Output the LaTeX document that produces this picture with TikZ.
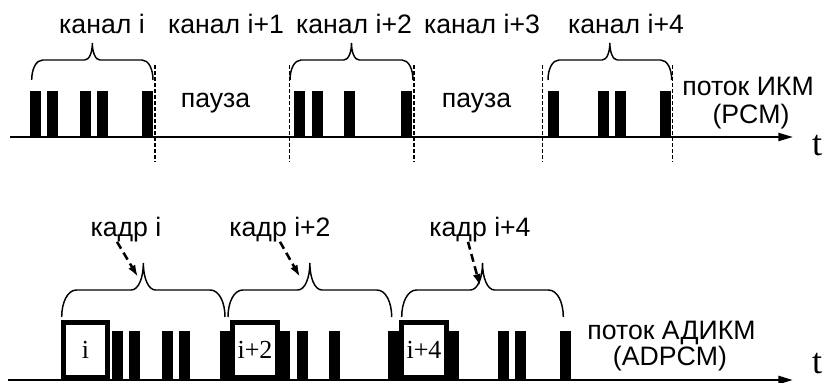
\documentclass[tikz,border=0pt]{standalone}
\usepackage{fontspec}
\setmainfont{Liberation Sans}
\newfontfamily\timesfont{Liberation Serif}
\usetikzlibrary{arrows.meta}

% curly brace: left x, right x, end y, middle y, tip y
\newcommand{\kbrace}[5]{%
  \pgfmathsetmacro{\kbm}{(#1+#2)/2}%
  \pgfmathsetmacro{\kbe}{0.55*(#3-#4)}%
  \pgfmathsetmacro{\kbt}{0.45*(#4-#5)}%
  \draw[brc] (#1,#3) .. controls (#1,{#4+0.45*(#3-#4)}) and ({#1+0.4*\kbe},#4) .. ({#1+\kbe},#4)
    -- ({\kbm-\kbt},#4) .. controls ({\kbm-0.4*\kbt},#4) and (\kbm,{#4-0.45*(#4-#5)}) .. (\kbm,#5)
    .. controls (\kbm,{#4-0.45*(#4-#5)}) and ({\kbm+0.4*\kbt},#4) .. ({\kbm+\kbt},#4)
    -- ({#2-\kbe},#4) .. controls ({#2-0.4*\kbe},#4) and (#2,{#4+0.45*(#3-#4)}) .. (#2,#3);}

\begin{document}
\begin{tikzpicture}[x=0.75pt,y=0.75pt,yscale=-1,xscale=1,
  lbl/.style={font=\fontsize{20}{24}\selectfont, inner sep=0pt, anchor=base},
  tlbl/.style={font=\timesfont\fontsize{27}{29}\selectfont, inner sep=0pt},
  kbox/.style={draw, fill=white, line width=3.75pt, minimum width=33.2pt, minimum height=41.25pt,
    inner sep=0pt, font=\timesfont\fontsize{19.5}{22}\selectfont},
  brc/.style={line width=1.1pt},
  sep/.style={line width=1.1pt, dash pattern=on 3pt off 1.5pt},
  axis/.style={line width=1.5pt, -{Triangle[length=11pt,width=6pt]}},
  farr/.style={line width=1.9pt, dash pattern=on 6pt off 3.5pt, -{Latex[length=9pt,width=6pt]}}]
\useasboundingbox (0,0) rectangle (828,382);

% PCM stream
\coordinate (tax0) at (10,137);
\coordinate (tax1) at (793,137);
\foreach \xa in {30,47.3,80,97.3,142.3,294.3,311.7,344,401,548.3,597.7,615.3,660}
  \fill (\xa,91) rectangle ++(11,45);
\draw[axis] (tax0) -- (tax1);
\node[tlbl] (ttop) at (817,146) {t};
\foreach \xa in {155,289.3,414,542.7,672.7}
  \draw[sep] (\xa,65) -- (\xa,162);

\kbrace{31.7}{153}{80}{60}{43}
\kbrace{290}{413}{80}{60}{43}
\kbrace{548}{671.7}{80}{60}{43}

\node[lbl] (ch0) at (102,33) {канал i};
\node[lbl] (ch1) at (226,33) {канал i+1};
\node[lbl] (ch2) at (354,33) {канал i+2};
\node[lbl] (ch3) at (482,33) {канал i+3};
\node[lbl] (ch4) at (626,33) {канал i+4};
\node[lbl] (pause1) at (215.5,107) {пауза};
\node[lbl] (pause2) at (476.5,107) {пауза};
\node[lbl] (pcm1) at (748,95) {поток ИКМ};
\node[lbl] (pcm2) at (751,123) {(PCM)};

% ADPCM stream
\coordinate (bax0) at (8,380);
\coordinate (bax1) at (793,380);
\foreach \xa/\w in {112.3/11,129.3/11,162.3/11,179.3/11,220/10,280/10,296.7/11,329/11,388.3/11,449/10,498.3/11,515/11,560/11}
  \fill (\xa,331) rectangle ++(\w,48);
\draw[axis, line width=1.9pt] (bax0) -- (bax1);
\node[tlbl] (tbot) at (817,364) {t};
\node[kbox] (fr0) at (85.4,350) {i};
\node[kbox] (fr2) at (255,350) {i+2};
\node[kbox] (fr4) at (424,350) {i+4};

\kbrace{61.7}{225}{317}{290}{263}
\kbrace{228}{391.7}{317}{290}{263}
\kbrace{401.7}{563.3}{317}{290}{263}

\node[lbl] (kadr0) at (126,236) {кадр i};
\node[lbl] (kadr2) at (280,236) {кадр i+2};
\node[lbl] (kadr4) at (480,236) {кадр i+4};
\coordinate (k0end) at (138,277);
\coordinate (k2end) at (300,277);
\coordinate (k4end) at (480,286);
\draw[farr] ([xshift=-6.75pt]kadr0.south) -- (k0end);
\draw[farr] (kadr2.south) -- (k2end);
\draw[farr] ([xshift=-9pt]kadr4.south) -- (k4end);
\node[lbl] (adpcm1) at (671.5,339) {поток АДИКМ};
\node[lbl] (adpcm2) at (670,365) {(ADPCM)};

\end{tikzpicture}
\end{document}
